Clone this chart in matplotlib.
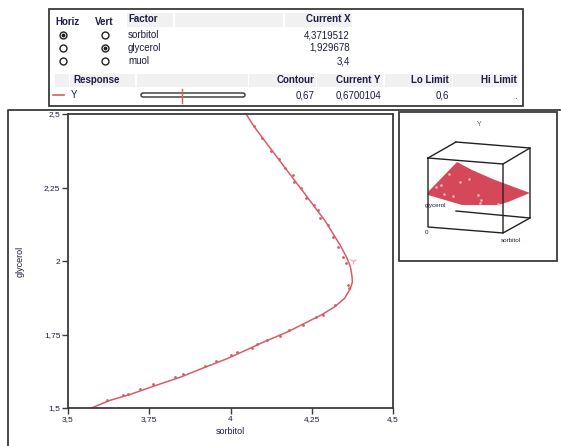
import numpy as np
import matplotlib
matplotlib.use('Agg')
import matplotlib.pyplot as plt
from matplotlib.patches import Rectangle, FancyBboxPatch, Polygon

plt.rcParams['font.family'] = ['Liberation Sans', 'DejaVu Sans']

# contour line Y = 0.67 (sorbitol vs glycerol)
contour_sorbitol = [4.048, 4.072, 4.103, 4.134, 4.165, 4.196, 4.227, 4.258, 4.289, 4.315,
                    4.340, 4.359, 4.369, 4.374, 4.375, 4.369, 4.351, 4.320, 4.279, 4.237,
                    4.176, 4.103, 4.052, 3.990, 3.918, 3.846, 3.763, 3.691, 3.629, 3.572]
contour_glycerol = [2.500, 2.458, 2.412, 2.367, 2.321, 2.276, 2.231, 2.185, 2.140, 2.094,
                    2.049, 2.009, 1.980, 1.946, 1.928, 1.907, 1.873, 1.844, 1.816, 1.793,
                    1.759, 1.725, 1.699, 1.668, 1.637, 1.605, 1.574, 1.546, 1.526, 1.500]

# grid points found near the contour
dots_sorbitol = [4.072, 4.098, 4.126, 4.149, 4.167, 4.191, 4.196, 4.216, 4.232, 4.258,
                 4.268, 4.276, 4.299, 4.316, 4.330, 4.345, 4.356, 4.361, 4.366, 4.320,
                 4.284, 4.263, 4.222, 4.180, 4.153, 4.113, 4.082, 4.067, 4.021, 4.000,
                 3.954, 3.923, 3.854, 3.830, 3.761, 3.722, 3.686, 3.668, 3.619]
dots_glycerol = [2.458, 2.418, 2.373, 2.348, 2.316, 2.291, 2.268, 2.248, 2.214, 2.191,
                 2.174, 2.145, 2.123, 2.083, 2.049, 2.015, 1.992, 1.918, 1.907, 1.850,
                 1.818, 1.809, 1.784, 1.765, 1.745, 1.731, 1.716, 1.705, 1.689, 1.680,
                 1.659, 1.643, 1.617, 1.606, 1.583, 1.564, 1.549, 1.543, 1.526]

current_point = (4.377, 2.0)

x_ticks = [3.5, 3.75, 4, 4.25, 4.5]
x_ticklabels = ['3,5', '3,75', '4', '4,25', '4,5']
y_ticks = [1.5, 1.75, 2, 2.25, 2.5]
y_ticklabels = ['1,5', '1,75', '2', '2,25', '2,5']

factors = ['sorbitol', 'glycerol', 'muol']
current_x = ['4,3719512', '1,929678', '3,4']
horiz_sel = [True, False, False]
vert_sel = [False, True, False]
response_headers = ['Contour', 'Current Y', 'Lo Limit', 'Hi Limit']
response_values = ['0,67', '0,6700104', '0,6', '.']

# thumbnail of the 3d surface plot (projected, in pixels)
cube_front = [(428, 158), (503, 164), (503, 233), (428, 227)]
cube_back = [(456, 142), (530, 148), (530, 218), (456, 211)]
surface_outline = [(428, 192), (457, 162), (472, 170), (495, 180), (530, 193),
                   (508, 202), (498, 205), (462, 205), (428, 195)]
surface_dots = [(449, 174), (441, 185), (436, 187), (460, 182), (469, 179),
                (444, 194), (453, 196), (478, 195), (481, 200), (498, 204), (480, 203)]

txt = '#1c1c44'
red = '#d75c68'
frame = '#3a3a3a'

fig = plt.figure(figsize=(5.61, 4.46), dpi=100)
bg = fig.add_axes([0, 0, 1, 1])
bg.set_xlim(0, 561)
bg.set_ylim(446, 0)
bg.axis('off')

# control panel box
bg.add_patch(Rectangle((49, 9), 474, 97, fill=False, lw=1.3, ec=frame))
for x0, x1 in [(127, 173), (175, 283), (285, 352)]:
    bg.add_patch(Rectangle((x0, 13), x1 - x0, 14, fc='#f1f1f1', ec='none'))
for x0, x1 in [(55, 69), (70, 135), (137, 248), (249, 316), (317, 383), (385, 452), (453, 518)]:
    bg.add_patch(Rectangle((x0, 74), x1 - x0, 13, fc='#f1f1f1', ec='none'))

hfont = dict(fontsize=7, fontweight='bold', color=txt, va='center')
bfont = dict(fontsize=7, color=txt, va='center')
bg.text(55, 22, 'Horiz', **hfont)
bg.text(95, 22, 'Vert', **hfont)
bg.text(128, 19, 'Factor', **hfont)
bg.text(351, 19, 'Current X', ha='right', **hfont)

rows_y = [35, 48, 61]
for i, name in enumerate(factors):
    y = rows_y[i]
    bg.text(128, y, name, **bfont)
    bg.text(350, y, current_x[i], ha='right', **bfont)
    for cx, sel in [(63, horiz_sel[i]), (105, vert_sel[i])]:
        bg.plot(cx, y, 'o', ms=5, mfc='white', mec='#222222', mew=1.0)
        if sel:
            bg.plot(cx, y, 'o', ms=1.8, color='#222222')

bg.text(73, 80, 'Response', **hfont)
resp_right = [315, 381, 449, 517]
for xr, h in zip(resp_right, response_headers):
    bg.text(xr, 80, h, ha='right', **hfont)
for xr, v in zip(resp_right, response_values):
    bg.text(xr, 96, v, ha='right', **bfont)
bg.plot([53, 64], [95, 95], color=red, lw=1.2)
bg.text(71, 95, 'Y', **bfont)
bg.add_patch(FancyBboxPatch((141, 93), 104, 4, boxstyle='round,pad=0,rounding_size=2',
                            fc='white', ec='#333333', lw=1.0))
bg.plot([182, 182], [89, 103], color=red, lw=1.0)

# outer frame of the profiler
bg.plot([8, 8, 560], [446, 110, 110], color=frame, lw=1.3)

# 3d thumbnail
bg.add_patch(Rectangle((399, 112), 158, 149, fill=False, lw=1.3, ec=frame))
bg.text(479, 124, 'Y', fontsize=5, color='#555577', ha='center', va='center')
fx, fy = zip(*(cube_front + cube_front[:1]))
kx, ky = zip(*(cube_back + cube_back[:1]))
bg.plot(kx[:4], ky[:4], color='#222222', lw=1.0)
bg.add_patch(Polygon(surface_outline, closed=True, fc='#d4485a', ec='none'))
bg.plot(fx, fy, color='#222222', lw=1.0)
for (ax_, ay_), (bx_, by_) in zip(cube_front[:3], cube_back[:3]):
    bg.plot([ax_, bx_], [ay_, by_], color='#222222', lw=1.0)
sx, sy = zip(*surface_dots)
bg.plot(sx, sy, 'o', ms=0.8, color='#f0c0c8', ls='none')
bg.text(425, 205, 'glycerol', fontsize=4.5, color=txt, va='center')
bg.text(425, 232, '0', fontsize=4.5, color=txt, va='center')
bg.text(501, 240, 'sorbitol', fontsize=4.5, color=txt, va='center')

# contour plot
ax = fig.add_axes([68 / 561, (446 - 408) / 446, (393 - 68) / 561, (408 - 114) / 446])
ax.plot(contour_sorbitol, contour_glycerol, color=red, lw=1.1, solid_joinstyle='round')
ax.plot(dots_sorbitol, dots_glycerol, 'o', ms=1.0, color=red, ls='none')
ax.plot(*current_point, marker='1', ms=5, color='#f0a0b0', mew=0.8)
ax.set_xlim(3.5, 4.5)
ax.set_ylim(1.5, 2.5)
ax.set_xticks(x_ticks)
ax.set_xticklabels(x_ticklabels)
ax.set_yticks(y_ticks)
ax.set_yticklabels(y_ticklabels)
ax.tick_params(direction='out', length=4, width=1, labelsize=6, colors=frame,
               labelcolor=txt, pad=1.5)
for s in ax.spines.values():
    s.set_linewidth(1.3)
    s.set_color(frame)
ax.set_xlabel('sorbitol', fontsize=6.5, color=txt, labelpad=3)
ax.set_ylabel('glycerol', fontsize=6.5, color=txt, labelpad=14)

fig.savefig('out.png', dpi=100)
